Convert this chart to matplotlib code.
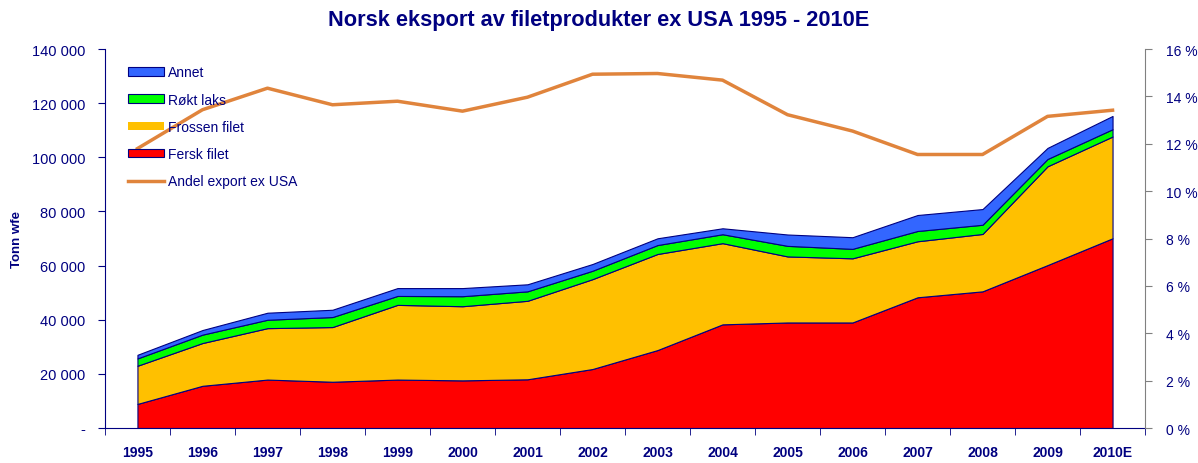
import matplotlib.pyplot as plt
import matplotlib.ticker as mticker
from matplotlib.patches import Patch
from matplotlib.lines import Line2D

plt.rcParams['font.family'] = ['Liberation Sans', 'DejaVu Sans']

years = ['1995', '1996', '1997', '1998', '1999', '2000', '2001', '2002',
         '2003', '2004', '2005', '2006', '2007', '2008', '2009', '2010E']
fersk = [8900, 15600, 17900, 17100, 17900, 17600, 18000, 21800,
         28800, 38300, 39000, 39000, 48300, 50500, 60200, 70100]
frossen = [14100, 15800, 19000, 20200, 27600, 27400, 29000, 33200,
           35500, 30000, 24400, 23700, 20700, 21200, 36500, 37600]
rokt = [2700, 3100, 3100, 3700, 3300, 3700, 3500, 3100,
        3300, 3300, 3900, 3500, 3800, 3400, 2700, 2700]
annet = [1350, 1700, 2600, 2700, 2900, 3000, 2600, 2500,
         2500, 2200, 4200, 4300, 5900, 5800, 4100, 4900]
andel = [11.8, 13.44, 14.35, 13.65, 13.8, 13.38, 13.97, 14.94,
         14.97, 14.69, 13.23, 12.54, 11.55, 11.55, 13.16, 13.42]

navy = '#000080'
c_red = '#FF0000'
c_yel = '#FFC000'
c_grn = '#00FF00'
c_blu = '#3366FF'
c_org = '#E0843C'

fig = plt.figure(figsize=(11.98, 4.64), dpi=100)
ax = fig.add_axes([0.0876, 0.0754, 0.8682, 0.8166])
x = list(range(len(years)))

ax.stackplot(x, fersk, frossen, rokt, annet,
             colors=[c_red, c_yel, c_grn, c_blu],
             edgecolor=navy, linewidth=0.8)
ax.set_xlim(-0.5, len(years) - 0.5)
ax.set_ylim(0, 140000)
ax.yaxis.set_major_locator(mticker.MultipleLocator(20000))
ax.yaxis.set_major_formatter(mticker.FuncFormatter(
    lambda v, p: '-' if v == 0 else f'{v:,.0f}'.replace(',', ' ')))
ax.set_xticks(x)
ax.set_xticklabels(years, fontweight='bold', color=navy, fontsize=10)
ax.set_xticks([i - 0.5 for i in range(len(years) + 1)], minor=True)
ax.tick_params(axis='x', which='major', length=0, pad=12)
ax.tick_params(axis='x', which='minor', length=5, color=navy, direction='out')
ax.tick_params(axis='y', length=5, color=navy, labelcolor=navy, labelsize=10.5, pad=9)
ax.set_ylabel('Tonn wfe', fontweight='bold', color=navy, fontsize=9.5)
ax.yaxis.set_label_coords(-0.079, 0.5)
for s in ['top', 'right']:
    ax.spines[s].set_visible(False)
ax.spines['left'].set_color(navy)
ax.spines['bottom'].set_color(navy)

ax2 = ax.twinx()
ax2.plot(x, andel, color=c_org, linewidth=2.5)
ax2.set_ylim(0, 16)
ax2.yaxis.set_major_locator(mticker.MultipleLocator(2))
ax2.yaxis.set_major_formatter(mticker.FuncFormatter(lambda v, p: f'{v:.0f} %'))
ax2.tick_params(axis='y', length=5, color='gray', labelcolor=navy, labelsize=10, pad=10)
for s in ['top', 'left', 'bottom']:
    ax2.spines[s].set_visible(False)
ax2.spines['right'].set_color('gray')

handles = [
    Patch(facecolor=c_blu, edgecolor=navy, linewidth=0.8),
    Patch(facecolor=c_grn, edgecolor=navy, linewidth=0.8),
    Patch(facecolor=c_yel, edgecolor='none'),
    Patch(facecolor=c_red, edgecolor=navy, linewidth=0.8),
    Line2D([], [], color=c_org, linewidth=2.5),
]
labels = ['Annet', 'Røkt laks', 'Frossen filet', 'Fersk filet', 'Andel export ex USA']
leg = ax2.legend(handles, labels, loc='upper left', bbox_to_anchor=(0.01, 0.99),
                 frameon=False, fontsize=10, labelspacing=0.95,
                 handlelength=2.6, handleheight=0.55, handletextpad=0.3)
for t in leg.get_texts():
    t.set_color(navy)

fig.suptitle('Norsk eksport av filetprodukter ex USA 1995 - 2010E',
             fontweight='bold', color=navy, fontsize=15.7, y=0.978)

fig.savefig('out.png', dpi=100)
